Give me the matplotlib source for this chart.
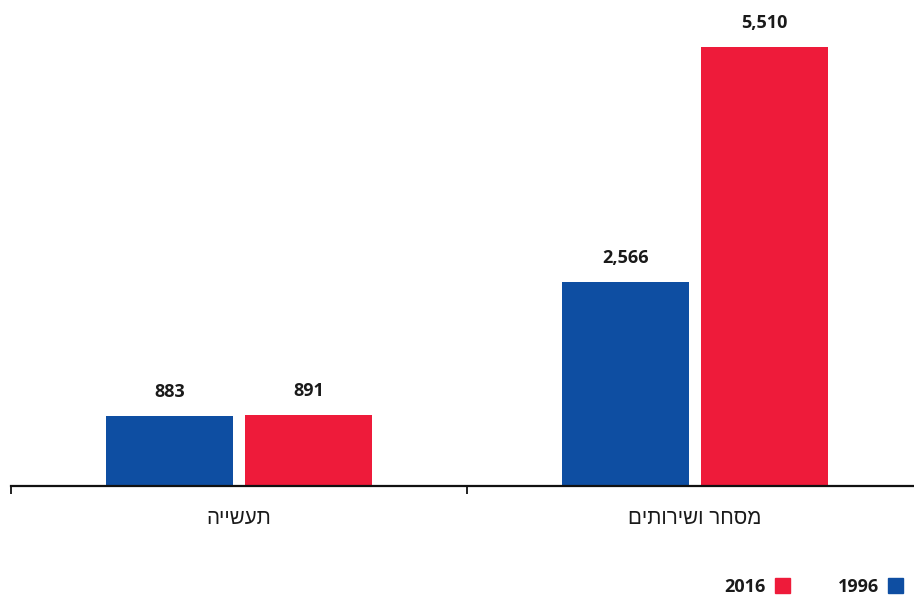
import matplotlib
matplotlib.use("Agg")
import matplotlib.pyplot as plt
from matplotlib.patches import Rectangle

categories = ["תעשייה", "מסחר ושירותים"]
series_names = ["1996", "2016"]
values_1996 = [883, 2566]
values_2016 = [891, 5510]
colors = ["#0E4EA2", "#EE1B3A"]

plt.rcParams['font.family'] = ['Open Sans', 'DejaVu Sans']

def vis(s):
    # Hebrew is right-to-left; matplotlib draws characters left-to-right
    return s[::-1]

W, H = 914, 595
fig = plt.figure(figsize=(W / 100, H / 100), dpi=100)
ax = fig.add_axes([11 / W, 1 - 486 / H, (923 - 11) / W, 486 / H])

bw = 0.277
gap = 0.0285
x = list(range(len(categories)))
for i, (vals, c) in enumerate(zip([values_1996, values_2016], colors)):
    offs = -(bw + gap) / 2 if i == 0 else (bw + gap) / 2
    xs = [xi + offs for xi in x]
    bars = ax.bar(xs, vals, width=bw, color=c)
    for b, v in zip(bars, vals):
        ax.annotate(f"{v:,}", (b.get_x() + b.get_width() / 2, v),
                    xytext=(0, 17), textcoords="offset points",
                    ha="center", va="center", fontsize=13,
                    fontweight="bold", color="#1a1a1a")

ax.set_xlim(-0.5, len(categories) - 0.5)
ymax = 5510 * 486 / 439
ax.set_ylim(0, ymax)
for s in ["top", "right", "left"]:
    ax.spines[s].set_visible(False)
ax.spines["bottom"].set_linewidth(1.6)
ax.spines["bottom"].set_color("#111111")
ax.set_yticks([])
ax.set_xticks([i - 0.5 for i in range(len(categories) + 1)])
ax.set_xticklabels([])
ax.tick_params(axis="x", length=5.5, width=1.3, direction="out", color="#111111")
for xi, cat in zip(x, categories):
    ax.text(xi, -33 / 486 * ymax, vis(cat), ha="center", va="center",
            fontsize=14.8, color="#1a1a1a",
            family=['Liberation Sans', 'DejaVu Sans'])

# legend (RTL: label to the left of the swatch)
leg_y = 585.5
sq = 15
for name, c, sx in [("1996", colors[0], 888), ("2016", colors[1], 775)]:
    fig.patches.append(Rectangle((sx / W, (H - leg_y - sq / 2) / H), sq / W, sq / H,
                                 transform=fig.transFigure, color=c))
    fig.text((sx - 9) / W, (H - leg_y + 1) / H, name, ha="right", va="center_baseline",
             fontsize=13, fontweight="bold", color="#1a1a1a")

fig.savefig("out.png", dpi=100)
